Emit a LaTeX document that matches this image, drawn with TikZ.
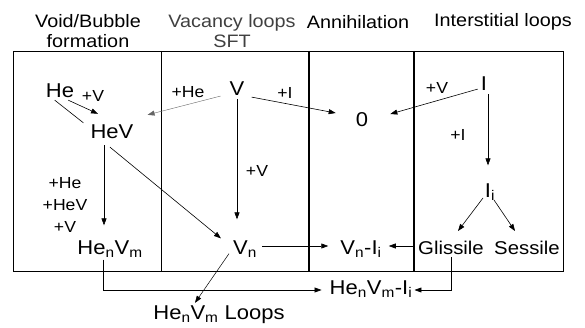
\documentclass[tikz,border=0pt]{standalone}
\usepackage{fontspec}
\setmainfont{Liberation Sans}[FakeStretch=1.1]
\usetikzlibrary{arrows.meta, positioning, calc}

\begin{document}
\begin{tikzpicture}[x=1pt, y=-1pt,
    species/.style={inner sep=1pt, font=\fontsize{20}{22}\selectfont},
    mode/.style={inner sep=1pt, font=\fontsize{18.5}{20}\selectfont},
    addlabel/.style={inner sep=1pt, font=\fontsize{16}{18}\selectfont},
    header/.style={align=center, font=\fontsize{18}{20.5}\selectfont},
    react/.style={-{Triangle[length=7pt,width=5pt]}, line width=0.6pt},
    frame/.style={line width=0.8pt},
    wall/.style={line width=1.4pt}
  ]
  \useasboundingbox (0,0) rectangle (585,328);

  % headers
  \node[header] (hvoid) at (88,31) {Void/Bubble\\formation};
  \node[header, text=black!75] (hvac) at (232,31) {Vacancy loops\\SFT};
  \node[header] (hann) at (358,22) {Annihilation};
  \node[header] (hint) at (503,22) {Interstitial loops};

  % frame and columns
  \draw[frame] (13,51) rectangle (563,271);
  \draw[frame] (161,51) -- (161,271);
  \draw[wall] (309,51) -- (309,271);
  \draw[wall] (414,51) -- (414,271);

  % species
  \node[species] (He) at (60,91) {He};
  \node[species] (HeV) at (112,132) {HeV};
  \node[species] (V) at (237,89) {V};
  \node[species] (zero) at (362,120) {0};
  \node[species] (I) at (484,84) {I};
  \node[species] (Ii) at (490,192) {I\textsubscript{i}};
  \node[species] (HenVm) at (110,249) {He\textsubscript{n}V\textsubscript{m}};
  \node[species] (Vn) at (245,249) {V\textsubscript{n}};
  \node[species] (VnIi) at (361,249) {V\textsubscript{n}-I\textsubscript{i}};
  \node[mode] (glissile) at (451,248) {Glissile};
  \node[mode] (sessile) at (527,248) {Sessile};
  \node[species] (HenVmIi) at (371,289) {He\textsubscript{n}V\textsubscript{m}-I\textsubscript{i}};
  \node[species] (loops) at (219,315) {He\textsubscript{n}V\textsubscript{m} Loops};

  % added species
  \node[addlabel] (addV1) at (93,96) {+V};
  \node[addlabel] (addHe) at (188,92) {+He};
  \node[addlabel] (addI1) at (285,93) {+I};
  \node[addlabel] (addV2) at (437,88) {+V};
  \node[addlabel] (addI2) at (458,135) {+I};
  \node[addlabel] (addV3) at (257,171) {+V};
  \node[addlabel, align=center] (addmix) at (65,205) {+He\\[4pt]+HeV\\[4pt]+V};

  % reactions
  \draw[line width=0.6pt] ([xshift=10pt,yshift=-1pt]He.south west) -- ([xshift=-6pt,yshift=1pt]HeV.north west);
  \draw[react] ([xshift=-7pt,yshift=-1pt]He.south east) -- ([xshift=-14pt,yshift=10pt]HeV.north);
  \draw[react, black!60, line width=0.4pt] ([xshift=-8pt,yshift=1pt]V.south west) -- ([xshift=13pt,yshift=9pt]HeV.north east);
  \draw[react] ([xshift=6pt,yshift=0pt]V.south east) -- ([xshift=-19pt,yshift=7pt]zero.west);
  \draw[react] ([xshift=-2pt,yshift=3pt]I.south west) -- ([xshift=21pt,yshift=6pt]zero.east);
  \draw[react] ([xshift=4pt,yshift=-2pt]I.south) -- ([xshift=-2pt,yshift=17pt]Ii.north);
  \draw[react] ([xshift=0pt,yshift=-2pt]V.south) -- ([xshift=-8pt,yshift=20pt]Vn.north);
  \draw[react] ([xshift=-8pt,yshift=-5pt]HeV.south) -- ([xshift=-6pt,yshift=14pt]HenVm.north);
  \draw[react] ([xshift=-2pt,yshift=-7pt]HeV.south) -- ([xshift=-11pt,yshift=1pt]Vn.north west);
  \draw[react] ([xshift=4pt,yshift=3pt]Vn.east) -- ([xshift=-11pt,yshift=3pt]VnIi.west);
  \draw[react] ([xshift=-4pt,yshift=2pt]glissile.west) -- ([xshift=6pt,yshift=3pt]VnIi.east);
  \draw[react] ([xshift=-7pt,yshift=-6pt]Ii.center) -- ([xshift=7pt,yshift=9pt]glissile.north);
  \draw[react] ([xshift=4pt,yshift=-8pt]Ii.center) -- ([xshift=-12pt,yshift=9pt]sessile.north);
  \draw[react] ([xshift=-7pt,yshift=-1pt]HenVm.south) |- ([xshift=-7pt,yshift=-1pt]HenVmIi.west);
  \draw[react] ([yshift=-1pt]glissile.south) |- ([xshift=1pt,yshift=-1pt]HenVmIi.east);
  \draw[react, line width=0.5pt] ([xshift=-16pt,yshift=5pt]Vn.south) -- ([xshift=-24pt,yshift=2pt]loops.north);
\end{tikzpicture}
\end{document}
